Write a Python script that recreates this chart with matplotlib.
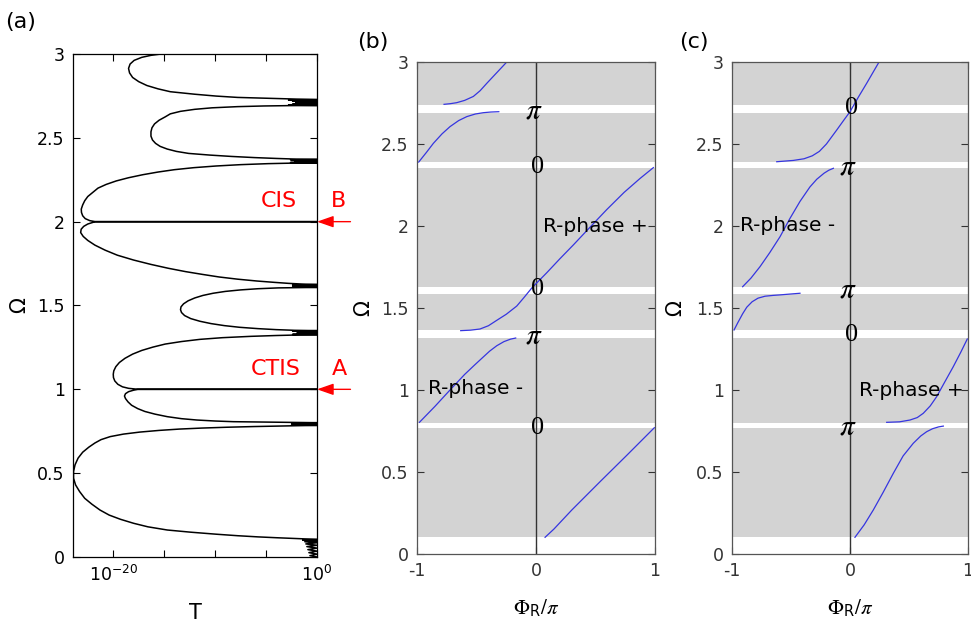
import numpy as np
import matplotlib
matplotlib.use("Agg")
import matplotlib.pyplot as plt

plt.rcParams['font.family'] = ['DejaVu Sans']
plt.rcParams['axes.unicode_minus'] = False
plt.rcParams['mathtext.fontset'] = 'dejavusans'

# ---------------- (a) transmission spectrum, log10(T) vs Omega ----------------
# pass band 0 - 0.105
pb0_om = [0.000, 0.008, 0.017, 0.026, 0.035, 0.044, 0.053, 0.062, 0.070, 0.078, 0.085, 0.091, 0.096, 0.100, 0.103]
pb0_lg = [0, -0.7, 0, -0.8, 0, -0.9, 0, -1.0, 0, -1.1, 0, -1.2, 0, -1.4, 0]
# gap 1
gap1_om = [0.106, 0.108, 0.111, 0.115, 0.120, 0.127, 0.136, 0.148, 0.161, 0.180, 0.201, 0.225, 0.250, 0.280,
           0.315, 0.350, 0.390, 0.430, 0.470, 0.510, 0.550, 0.590, 0.625, 0.655, 0.680, 0.700, 0.718,
           0.733, 0.745, 0.755, 0.763, 0.769, 0.774, 0.778, 0.781, 0.783, 0.785]
gap1_lg = [0, -1.2, -2.5, -4.0, -5.8, -7.8, -9.9, -12.4, -14.7, -16.6, -18.0, -19.3, -20.4, -21.3,
           -22.1, -22.8, -23.3, -23.7, -23.9, -23.9, -23.75, -23.45, -23.0, -22.4, -21.8, -21.2, -20.3,
           -19.0, -17.4, -15.5, -13.5, -11.3, -8.8, -6.2, -3.8, -2.0, 0]
pb1_om = [0.787, 0.789, 0.791, 0.793, 0.795, 0.797, 0.799]
pb1_lg = [-2.5, 0, -2.2, 0, -2.2, 0, -2.5]
# gap 2 (ends on the CTIS line at Omega = 1)
gap2_om = [0.801, 0.8025, 0.804, 0.807, 0.811, 0.817, 0.825, 0.837, 0.852, 0.868, 0.885, 0.905, 0.925,
           0.945, 0.960, 0.974, 0.986, 0.995, 0.9995, 1.000]
gap2_lg = [0, -2.0, -4.5, -8.2, -10.0, -11.8, -13.3, -14.7, -15.9, -16.9, -17.6, -18.2, -18.55,
           -18.8, -18.9, -18.8, -18.5, -18.0, -17.6, 0]
gap3_om = [1.0005, 1.006, 1.015, 1.030, 1.050, 1.070, 1.090, 1.110, 1.135, 1.160, 1.185, 1.210, 1.232,
           1.252, 1.270, 1.285, 1.298, 1.308, 1.316, 1.321, 1.324, 1.326]
gap3_lg = [-17.6, -18.5, -19.1, -19.55, -19.85, -19.98, -20.0, -19.95, -19.75, -19.4, -18.85, -18.1, -17.2,
           -16.1, -14.9, -13.3, -11.5, -9.3, -6.5, -4.0, -2.0, 0]
pb2_om = [1.328, 1.330, 1.332, 1.334, 1.336, 1.338, 1.340, 1.342, 1.344, 1.346, 1.348]
pb2_lg = [-2.4, 0, -2.0, 0, -1.8, 0, -1.8, 0, -2.0, 0, -2.4]
gap4_om = [1.350, 1.352, 1.356, 1.362, 1.370, 1.380, 1.392, 1.406, 1.422, 1.440, 1.458, 1.475, 1.492,
           1.510, 1.528, 1.545, 1.560, 1.573, 1.584, 1.593, 1.600, 1.605, 1.608]
gap4_lg = [0, -2.2, -4.0, -5.8, -7.6, -9.1, -10.4, -11.5, -12.4, -13.0, -13.3, -13.4, -13.35,
           -13.1, -12.65, -12.0, -11.2, -10.2, -9.0, -7.5, -5.8, -3.8, 0]
pb3_om = [1.610, 1.612, 1.614, 1.616, 1.618, 1.620, 1.622]
pb3_lg = [-2.4, 0, -2.0, 0, -2.0, 0, -2.4]
# gap 5 (ends on the CIS line at Omega = 2)
gap5_om = [1.625, 1.628, 1.632, 1.638, 1.646, 1.657, 1.670, 1.685, 1.702, 1.722, 1.745, 1.771, 1.800,
           1.830, 1.860, 1.888, 1.912, 1.935, 1.955, 1.972, 1.986, 1.996, 1.9995, 2.000]
gap5_lg = [0, -1.5, -2.8, -4.2, -5.9, -7.8, -9.6, -11.2, -12.9, -14.6, -16.3, -18.0, -19.6,
           -20.8, -21.8, -22.5, -22.95, -23.2, -23.15, -22.9, -22.5, -22.0, -21.8, 0]
gap6_om = [2.0005, 2.006, 2.018, 2.035, 2.055, 2.075, 2.100, 2.125, 2.150, 2.175, 2.200, 2.222, 2.243,
           2.262, 2.280, 2.296, 2.310, 2.322, 2.332, 2.340, 2.346, 2.349, 2.351]
gap6_lg = [-21.8, -22.3, -22.75, -23.0, -23.12, -23.14, -23.0, -22.8, -22.5, -22.0, -21.5, -20.7, -19.7,
           -18.5, -17.1, -15.6, -14.0, -12.1, -9.9, -7.5, -4.8, -2.5, 0]
pb4_om = [2.353, 2.355, 2.357, 2.359, 2.361, 2.363, 2.365, 2.367, 2.369]
pb4_lg = [-2.6, 0, -2.2, 0, -2.0, 0, -2.2, 0, -2.6]
gap7_om = [2.371, 2.373, 2.377, 2.382, 2.389, 2.397, 2.407, 2.419, 2.433, 2.449, 2.467, 2.487, 2.510,
           2.536, 2.560, 2.583, 2.605, 2.625, 2.643, 2.658, 2.670, 2.679, 2.686, 2.690, 2.692, 2.693]
gap7_lg = [0, -2.0, -4.0, -6.1, -8.4, -10.5, -12.6, -13.8, -14.7, -15.4, -15.85, -16.15, -16.3,
           -16.3, -16.2, -15.95, -15.5, -14.9, -14.4, -13.4, -12.0, -10.3, -7.8, -5.2, -2.8, 0]
pb5_om = [2.695, 2.698, 2.701, 2.704, 2.707, 2.710, 2.713, 2.716, 2.719, 2.722, 2.725, 2.727]
pb5_lg = [-2.8, 0, -2.4, 0, -2.1, 0, -2.1, 0, -2.4, 0, -2.8, 0]
gap8_om = [2.729, 2.731, 2.735, 2.741, 2.749, 2.760, 2.775, 2.792, 2.812, 2.835, 2.860, 2.887, 2.914,
           2.940, 2.962, 2.980, 2.992, 3.000]
gap8_lg = [0, -2.0, -4.2, -7.8, -9.9, -12.0, -14.4, -15.6, -16.7, -17.5, -18.1, -18.4, -18.5,
           -18.35, -17.95, -17.2, -16.3, -15.3]

# ---------------- (b), (c) reflection phase ----------------
# white strips = pass bands
band_lo = [0.000, 0.770, 1.315, 1.585, 2.355, 2.691]
band_hi = [0.105, 0.797, 1.366, 1.630, 2.388, 2.738]

b_seg1_x = [-0.773, -0.720, -0.667, -0.600, -0.527, -0.470, -0.414, -0.330, -0.246]
b_seg1_y = [2.742, 2.746, 2.752, 2.766, 2.790, 2.825, 2.870, 2.935, 3.000]
b_seg2_x = [-0.986, -0.920, -0.863, -0.790, -0.723, -0.650, -0.582, -0.510, -0.443, -0.380, -0.313]
b_seg2_y = [2.390, 2.450, 2.504, 2.562, 2.606, 2.643, 2.667, 2.683, 2.691, 2.695, 2.697]
b_seg3_x = [-0.633, -0.550, -0.471, -0.400, -0.330, -0.250, -0.162, -0.100, -0.036, 0.090, 0.200, 0.314,
            0.450, 0.594, 0.740, 0.874, 0.986]
b_seg3_y = [1.362, 1.365, 1.372, 1.392, 1.425, 1.462, 1.512, 1.565, 1.622, 1.715, 1.800, 1.885,
            1.990, 2.100, 2.205, 2.290, 2.356]
b_seg4_x = [-0.980, -0.850, -0.723, -0.600, -0.520, -0.450, -0.390, -0.330, -0.270, -0.215, -0.171]
b_seg4_y = [0.803, 0.900, 1.000, 1.095, 1.150, 1.197, 1.237, 1.270, 1.295, 1.310, 1.317]
b_seg5_x = [0.076, 0.150, 0.300, 0.538, 0.760, 0.994]
b_seg5_y = [0.102, 0.152, 0.268, 0.441, 0.600, 0.770]

c_seg1_x = [-0.621, -0.480, -0.390, -0.320, -0.260, -0.200, -0.113, -0.050, 0.000, 0.070, 0.141, 0.246]
c_seg1_y = [2.392, 2.400, 2.410, 2.428, 2.455, 2.500, 2.585, 2.648, 2.697, 2.785, 2.870, 3.000]
c_seg2_x = [-0.910, -0.840, -0.763, -0.680, -0.593, -0.510, -0.424, -0.340, -0.282, -0.220, -0.180, -0.141]
c_seg2_y = [1.630, 1.682, 1.752, 1.838, 1.935, 2.045, 2.150, 2.238, 2.285, 2.322, 2.340, 2.352]
c_seg3_x = [-0.983, -0.950, -0.910, -0.875, -0.830, -0.780, -0.720, -0.650, -0.593, -0.510, -0.424]
c_seg3_y = [1.366, 1.412, 1.465, 1.505, 1.538, 1.560, 1.572, 1.577, 1.580, 1.585, 1.590]
c_seg4_x = [0.311, 0.420, 0.508, 0.570, 0.621, 0.680, 0.734, 0.800, 0.875, 0.940, 0.994]
c_seg4_y = [0.803, 0.806, 0.817, 0.832, 0.858, 0.903, 0.959, 1.045, 1.142, 1.232, 1.311]
c_seg5_x = [0.042, 0.120, 0.197, 0.280, 0.367, 0.450, 0.536, 0.600, 0.650, 0.700, 0.750, 0.791]
c_seg5_y = [0.102, 0.178, 0.268, 0.375, 0.492, 0.598, 0.675, 0.720, 0.746, 0.764, 0.775, 0.780]

# phase marks on the Omega axis: (Omega, label)
b_marks = [(2.707, 'pi'), (2.362, '0'), (1.614, '0'), (1.335, 'pi'), (0.766, '0')]
c_marks = [(2.718, '0'), (2.362, 'pi'), (1.610, 'pi'), (1.335, '0'), (0.776, 'pi')]

TICK_FS = 12.5
fig = plt.figure(figsize=(9.71, 6.22), dpi=100)

ax_a = fig.add_axes([0.0752, 0.1045, 0.2513, 0.8087])
ax_b = fig.add_axes([0.4295, 0.1093, 0.2451, 0.7910])
ax_c = fig.add_axes([0.7539, 0.1093, 0.2430, 0.7910])

# ---- panel (a)
om_all = np.concatenate([pb0_om, gap1_om, pb1_om, gap2_om, gap3_om, pb2_om, gap4_om, pb3_om,
                         gap5_om, gap6_om, pb4_om, gap7_om, pb5_om, gap8_om])
lg_all = np.concatenate([pb0_lg, gap1_lg, pb1_lg, gap2_lg, gap3_lg, pb2_lg, gap4_lg, pb3_lg,
                         gap5_lg, gap6_lg, pb4_lg, gap7_lg, pb5_lg, gap8_lg])
ax_a.plot(10.0 ** lg_all, om_all, color='black', lw=1.1)
ax_a.set_xscale('log')
ax_a.set_xlim(10 ** -23.95, 1)
ax_a.set_ylim(0, 3)
ax_a.set_xticks([1e-20, 1e-15, 1e-10, 1e-5, 1])
ax_a.set_xticklabels([r'$10^{-20}$', '', '', '', r'$10^{0}$'])
ax_a.minorticks_off()
ax_a.set_yticks(np.arange(0, 3.01, 0.5))
ax_a.set_yticklabels(['0', '0.5', '1', '1.5', '2', '2.5', '3'])
ax_a.tick_params(direction='in', top=True, right=True, length=5, width=0.8,
                 labelsize=TICK_FS, pad=6)
for s in ax_a.spines.values():
    s.set_linewidth(0.9)
ax_a.set_xlabel('T', fontsize=15)
ax_a.xaxis.set_label_coords(0.5, -0.092)
ax_a.set_ylabel('Ω', fontsize=15)
ax_a.yaxis.set_label_coords(-0.18, 0.5)

# CIS / CTIS markers
for om, name, tag in [(2.0, 'CIS', 'B'), (1.0, 'CTIS', 'A')]:
    ax_a.annotate('', xy=(1, om), xycoords='data', xytext=(1.137, om),
                  textcoords=('axes fraction', 'data'), annotation_clip=False,
                  arrowprops=dict(arrowstyle='-|>,head_length=1.0,head_width=0.35',
                                  color='red', lw=1.0, shrinkA=0, shrinkB=0))
    ax_a.text(0.842 if name == 'CIS' else 0.832, om + 0.122, name, color='red', fontsize=16,
              ha='center', va='center', transform=ax_a.get_yaxis_transform(), clip_on=False)
    ax_a.text(1.09, om + 0.122, tag, color='red', fontsize=16, ha='center', va='center',
              transform=ax_a.get_yaxis_transform(), clip_on=False)


def phase_panel(ax, segs, marks, labels):
    ax.set_facecolor('#d3d3d3')
    for lo, hi in zip(band_lo, band_hi):
        ax.axhspan(lo, hi, color='white', lw=0)
    ax.axvline(0, color='#333333', lw=1.0)
    for xs, ys in segs:
        ax.plot(xs, ys, color='#3535e0', lw=0.9)
    for om, m in marks:
        if m == 'pi':
            ax.text(-0.015, om, r'$\pi$', fontsize=21, ha='center', va='center',
                    math_fontfamily='stix')
        else:
            ax.text(0.01, om, '0', fontsize=19, ha='center', va='center',
                    family='Liberation Serif')
    for x, om, txt in labels:
        ax.text(x, om, txt, fontsize=14.5, ha='left', va='center')
    ax.set_xlim(-1, 1)
    ax.set_ylim(0, 3)
    ax.set_xticks([-1, 0, 1])
    ax.set_yticks(np.arange(0, 3.01, 0.5))
    ax.set_yticklabels(['0', '0.5', '1', '1.5', '2', '2.5', '3'])
    ax.tick_params(direction='in', top=True, right=True, length=5, width=0.8,
                   labelsize=TICK_FS, pad=6, colors='#333333')
    for s in ax.spines.values():
        s.set_color('#555555')
        s.set_linewidth(0.9)
    ax.set_xlabel(r'$\Phi_{\mathdefault{R}}/\pi$', fontsize=15, math_fontfamily='stix')
    ax.xaxis.set_label_coords(0.5, -0.088)
    ax.set_ylabel('Ω', fontsize=15)


phase_panel(ax_b,
            [(b_seg1_x, b_seg1_y), (b_seg2_x, b_seg2_y), (b_seg3_x, b_seg3_y),
             (b_seg4_x, b_seg4_y), (b_seg5_x, b_seg5_y)],
            b_marks,
            [(0.056, 1.996, 'R-phase +'), (-0.905, 1.01, 'R-phase -')])
ax_b.yaxis.set_label_coords(-0.185, 0.5)

phase_panel(ax_c,
            [(c_seg1_x, c_seg1_y), (c_seg2_x, c_seg2_y), (c_seg3_x, c_seg3_y),
             (c_seg4_x, c_seg4_y), (c_seg5_x, c_seg5_y)],
            c_marks,
            [(-0.932, 2.006, 'R-phase -'), (0.076, 1.0, 'R-phase +')])
ax_c.yaxis.set_label_coords(-0.199, 0.5)

fig.text(0.0216, 0.9646, '(a)', fontsize=16, ha='center', va='center')
fig.text(0.3842, 0.9325, '(b)', fontsize=16, ha='center', va='center')
fig.text(0.7147, 0.9325, '(c)', fontsize=16, ha='center', va='center')

fig.savefig('out.png', dpi=100)
